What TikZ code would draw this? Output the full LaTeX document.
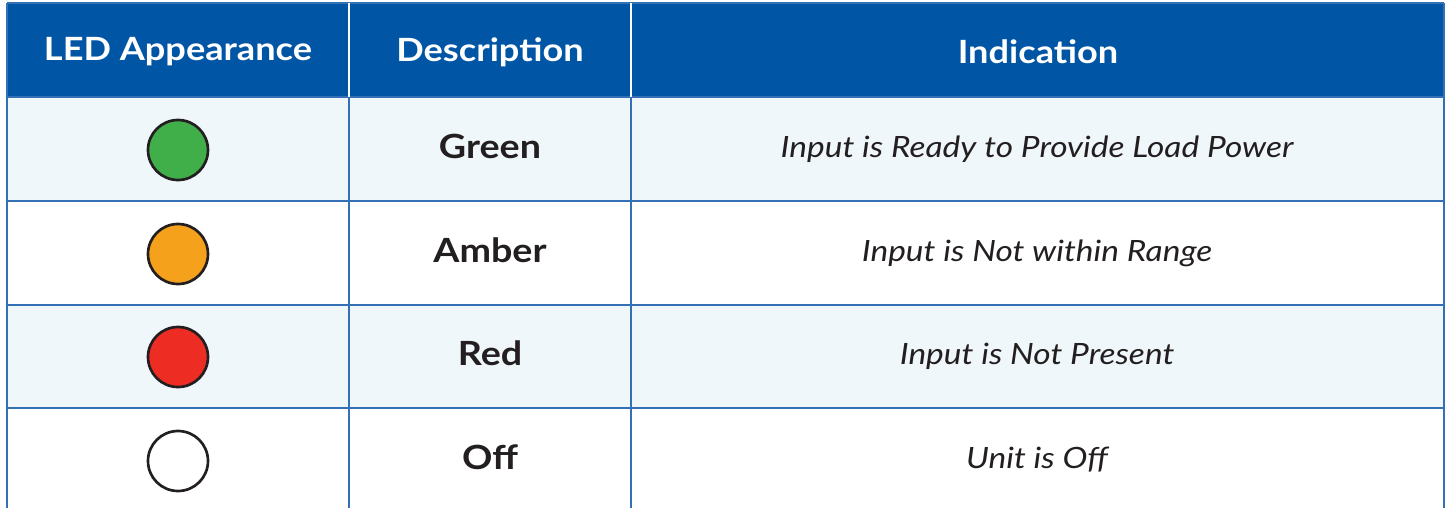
\documentclass[tikz,border=0pt]{standalone}
\usepackage{fontspec}
\setmainfont{Lato}[BoldFeatures={FakeStretch=1.13},ItalicFeatures={FakeStretch=1.14}]
\definecolor{hdrblue}{RGB}{0,86,165}
\definecolor{gridblue}{RGB}{52,112,182}
\definecolor{rowtint}{RGB}{240,247,251}
\definecolor{inkdark}{RGB}{35,31,32}
\definecolor{ledgreen}{RGB}{64,174,73}
\definecolor{ledamber}{RGB}{245,161,28}
\definecolor{ledred}{RGB}{237,45,36}
\begin{document}
\begin{tikzpicture}[x=0.75pt,y=-0.75pt,
    head/.style={text=white,font=\bfseries\fontsize{24}{28}\selectfont},
    desc/.style={text=inkdark,font=\bfseries\fontsize{25}{30}\selectfont},
    ind/.style={text=inkdark,font=\itshape\fontsize{22}{26}\selectfont},
    led/.style={circle,draw=inkdark,line width=2pt,minimum size=45pt,inner sep=0pt},
    grid/.style={draw=gridblue,line width=1pt}]
  \useasboundingbox (0,0) rectangle (1447,508);
  % row fills
  \fill[hdrblue] (7,3) rectangle (1444,97);
  \fill[rowtint] (7,97) rectangle (1444,201);
  \fill[rowtint] (7,305) rectangle (1444,408);
  % grid
  \begin{scope}[grid]
    \draw (7,3) -- (7,508);
    \draw (1444,3) -- (1444,508);
    \draw (7,3) -- (1444,3);
    \draw (7,97) -- (1444,97);
    \draw (7,201) -- (1444,201);
    \draw (7,305) -- (1444,305);
    \draw (7,408) -- (1444,408);
    \draw (349,97) -- (349,508);
    \draw (631,97) -- (631,508);
  \end{scope}
  \draw[white,line width=1.5pt] (349,3) -- (349,97);
  \draw[white,line width=1.5pt] (631,3) -- (631,97);
  % header
  \node[head] (hled) at (178,52) {LED Appearance};
  \node[head] (hdesc) at (490,52) {Description};
  \node[head] (hind) at (1038,52) {Indication};
  % rows
  \node[led,fill=ledgreen] (green) at (178,150) {};
  \node[desc] (dgreen) at (490,146) {Green};
  \node[ind] (igreen) at (1037,149) {Input is Ready to Provide Load Power};
  \node[led,fill=ledamber] (amber) at (178,254) {};
  \node[desc] (damber) at (490,250) {Amber};
  \node[ind] (iamber) at (1037,253) {Input is Not within Range};
  \node[led,fill=ledred] (red) at (178,357) {};
  \node[desc] (dred) at (490,353) {Red};
  \node[ind] (ired) at (1037,356) {Input is Not Present};
  \node[led,fill=white] (off) at (178,461) {};
  \node[desc] (doff) at (490,457) {Off};
  \node[ind] (ioff) at (1037,460) {Unit is Off};
\end{tikzpicture}
\end{document}
